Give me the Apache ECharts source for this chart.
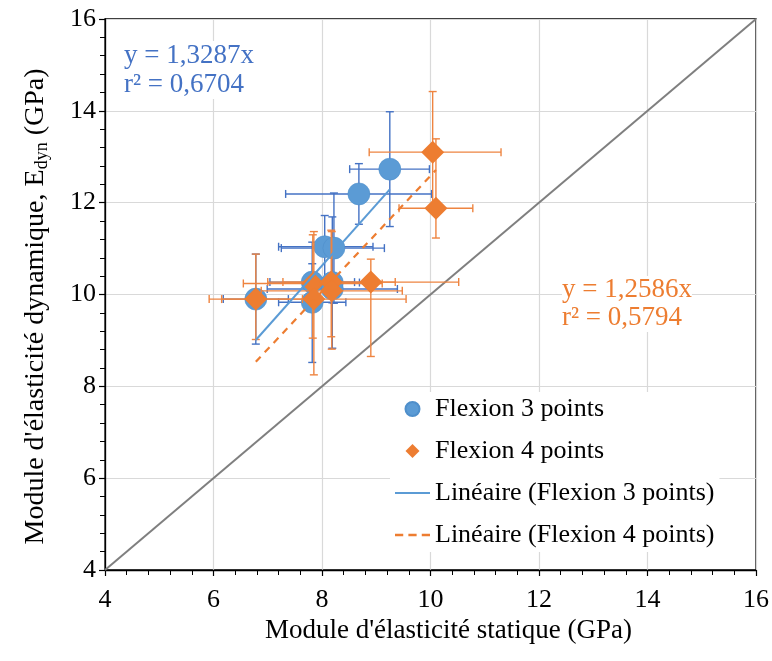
<!DOCTYPE html>
<html><head><meta charset="utf-8">
<script src="https://cdn.jsdelivr.net/npm/echarts@6/dist/echarts.min.js"></script>
<style>html,body{margin:0;padding:0;background:#fff}#c{width:772px;height:661px}</style>
</head><body><div id="c"></div>
<script>
// ---- data ----
const axisMin = 4, axisMax = 16, axisStep = 2;

// Flexion 3 points
const p3X     = [6.78, 7.82, 7.82, 8.19, 8.19, 8.05, 8.22, 8.68, 9.25];
const p3Y     = [9.90, 10.27, 9.83, 10.26, 10.12, 11.04, 11.01, 12.19, 12.73];
const p3XLow  = [6.18, 7.04, 7.20, 7.69, 6.99, 7.20, 7.25, 7.33, 8.51];
const p3XHigh = [7.38, 8.60, 8.44, 8.69, 9.39, 8.94, 9.15, 10.02, 9.98];
const p3YLow  = [8.92, 9.87, 8.52, 8.83, 9.82, 10.36, 9.81, 11.53, 11.48];
const p3YHigh = [10.88, 10.67, 11.14, 11.69, 10.42, 11.72, 12.21, 12.85, 13.98];

// Flexion 4 points
const p4X     = [6.78, 7.83, 7.85, 8.17, 8.18, 8.90, 10.04, 10.10];
const p4Y     = [9.90, 10.24, 9.90, 10.27, 10.08, 10.27, 13.10, 11.88];
const p4XLow  = [5.92, 6.55, 6.15, 7.00, 6.88, 7.28, 8.87, 9.42];
const p4XHigh = [7.64, 9.11, 9.55, 9.35, 9.48, 10.52, 11.30, 10.78];
const p4YLow  = [9.02, 9.05, 8.25, 9.08, 8.81, 8.65, 11.90, 11.23];
const p4YHigh = [10.88, 11.30, 11.37, 11.40, 11.37, 10.77, 14.42, 13.39];

// trend lines (through origin)
const slope3 = 1.3287, r2_3 = '0,6704';
const slope4 = 1.2586, r2_4 = '0,5794';
const eq3 = 'y = 1,3287x', eq4 = 'y = 1,2586x';

const names = ['Flexion 3 points', 'Flexion 4 points', 'Linéaire (Flexion 3 points)', 'Linéaire (Flexion 4 points)'];

// ---- build ----
const blue = '#5B9BD5', blueErr = '#4472C4', orange = '#ED7D31', orangeErr = '#EE8440';
const FONT = '"Liberation Serif", "Times New Roman", serif';
const FS = 26;

function pts(xs, ys) { return xs.map((x, i) => [x, ys[i]]); }
function errData(xs, ys, xl, xh, yl, yh) { return xs.map((x, i) => [x, ys[i], xl[i], xh[i], yl[i], yh[i]]); }
function trend(xs, k) {
  const mn = Math.min(...xs), mx = Math.max(...xs);
  return [[mn, k * mn], [mx, k * mx]];
}
function errRender(color) {
  return function (params, api) {
    const x = api.value(0), y = api.value(1);
    const l = api.coord([api.value(2), y]), r = api.coord([api.value(3), y]);
    const b = api.coord([x, api.value(4)]), t = api.coord([x, api.value(5)]);
    const cap = 4;
    const st = { stroke: color, lineWidth: 1.4 };
    const ln = (x1, y1, x2, y2) => ({ type: 'line', shape: { x1, y1, x2, y2 }, style: st });
    return {
      type: 'group',
      children: [
        ln(l[0], l[1], r[0], r[1]),
        ln(b[0], b[1], t[0], t[1]),
        ln(l[0], l[1] - cap, l[0], l[1] + cap),
        ln(r[0], r[1] - cap, r[0], r[1] + cap),
        ln(b[0] - cap, b[1], b[0] + cap, b[1]),
        ln(t[0] - cap, t[1], t[0] + cap, t[1])
      ]
    };
  };
}

const axisCommon = {
  type: 'value', min: axisMin, max: axisMax, interval: axisStep,
  axisLine: { show: true, onZero: false, lineStyle: { color: '#000', width: 1.3 } },
  axisTick: { show: true, inside: false, length: 6, lineStyle: { color: '#000', width: 1.2 } },
  minorTick: { show: true, splitNumber: 5, length: 5, lineStyle: { color: '#000', width: 1 } },
  splitLine: { show: true, lineStyle: { color: '#D9D9D9', width: 1.2 } },
  nameLocation: 'middle'
};

const option = {
  animation: false,
  backgroundColor: '#fff',
  grid: { left: 105, right: 15, top: 19, bottom: 91, show: true, borderColor: '#000', borderWidth: 1.3, backgroundColor: 'transparent' },
  xAxis: Object.assign({}, axisCommon, {
    name: "Module d'élasticité statique (GPa)", nameGap: 41,
    axisLabel: { fontFamily: FONT, fontSize: FS, color: '#000', margin: 17 },
    nameTextStyle: { fontFamily: FONT, fontSize: 27, color: '#000', padding: [0, 0, 0, 36] }
  }),
  yAxis: Object.assign({}, axisCommon, {
    name: "{a|Module d'élasticité dynamique, E}{s|dyn}{a| (GPa)}", nameGap: 54,
    axisLabel: { fontFamily: FONT, fontSize: FS, color: '#000', margin: 9 },
    nameTextStyle: {
      fontFamily: FONT, fontSize: 28, color: '#000', padding: [0, 24, 0, 0],
      rich: {
        a: { fontFamily: FONT, fontSize: 28, color: '#000', lineHeight: 30 },
        s: { fontFamily: FONT, fontSize: 18, color: '#000', lineHeight: 18, padding: [13, 0, 0, 0] }
      }
    }
  }),
  legend: {
    data: [
      { name: names[0], icon: 'circle' },
      { name: names[1], icon: 'path://M5,0L10,5L5,10L0,5Z' },
      { name: names[2], icon: 'path://M0,0H35V2.2H0Z' },
      { name: names[3], icon: 'path://M0,0H8V2.4H0Z M13,0H21V2.4H13Z M26,0H34V2.4H26Z' }
    ],
    symbolKeepAspect: true,
    orient: 'vertical', left: 390, top: 392,
    itemWidth: 35, itemHeight: 14, itemGap: 16,
    backgroundColor: '#fff', padding: [4, 5, 4, 5],
    textStyle: { fontFamily: FONT, fontSize: FS, color: '#000' }
  },
  series: [
    { name: 'diag', type: 'line', data: [[axisMin, axisMin], [axisMax, axisMax]], symbol: 'none',
      lineStyle: { color: '#7F7F7F', width: 2 }, z: 1, silent: true },
    { name: 'err3', type: 'custom', renderItem: errRender(blueErr), data: errData(p3X, p3Y, p3XLow, p3XHigh, p3YLow, p3YHigh),
      encode: { x: 0, y: 1 }, z: 2 },
    { name: names[0], type: 'scatter', data: pts(p3X, p3Y), symbol: 'circle', symbolSize: 22,
      itemStyle: { color: blue, borderColor: '#4F8FCB', borderWidth: 0.6, opacity: 1 }, z: 3 },
    { name: 'err4', type: 'custom', renderItem: errRender(orangeErr), data: errData(p4X, p4Y, p4XLow, p4XHigh, p4YLow, p4YHigh),
      encode: { x: 0, y: 1 }, z: 4 },
    { name: names[1], type: 'scatter', data: pts(p4X, p4Y), symbol: 'diamond', symbolSize: 23,
      itemStyle: { color: orange, opacity: 1 }, z: 5 },
    { name: names[2], type: 'line', data: trend(p3X, slope3), symbol: 'none',
      lineStyle: { color: blue, width: 2 }, itemStyle: { color: blue }, z: 6 },
    { name: names[3], type: 'line', data: trend(p4X, slope4), symbol: 'none',
      lineStyle: { color: orange, width: 2.2, type: [7, 6] }, itemStyle: { color: orange }, z: 6 }
  ],
  graphic: [
    { type: 'text', left: 124, top: 41, z: 10,
      style: { text: eq3 + '\nr² = ' + r2_3, font: '27px ' + FONT, fill: '#4472C4', align: 'center', lineHeight: 29, backgroundColor: '#fff' } },
    { type: 'text', left: 562, top: 276, z: 10,
      style: { text: eq4 + '\nr² = ' + r2_4, font: '27px ' + FONT, fill: orange, align: 'center', lineHeight: 28, backgroundColor: '#fff' } }
  ]
};

const chart = echarts.init(document.getElementById('c'), null, { renderer: 'canvas' });
chart.setOption(option);
</script>
</body></html>
